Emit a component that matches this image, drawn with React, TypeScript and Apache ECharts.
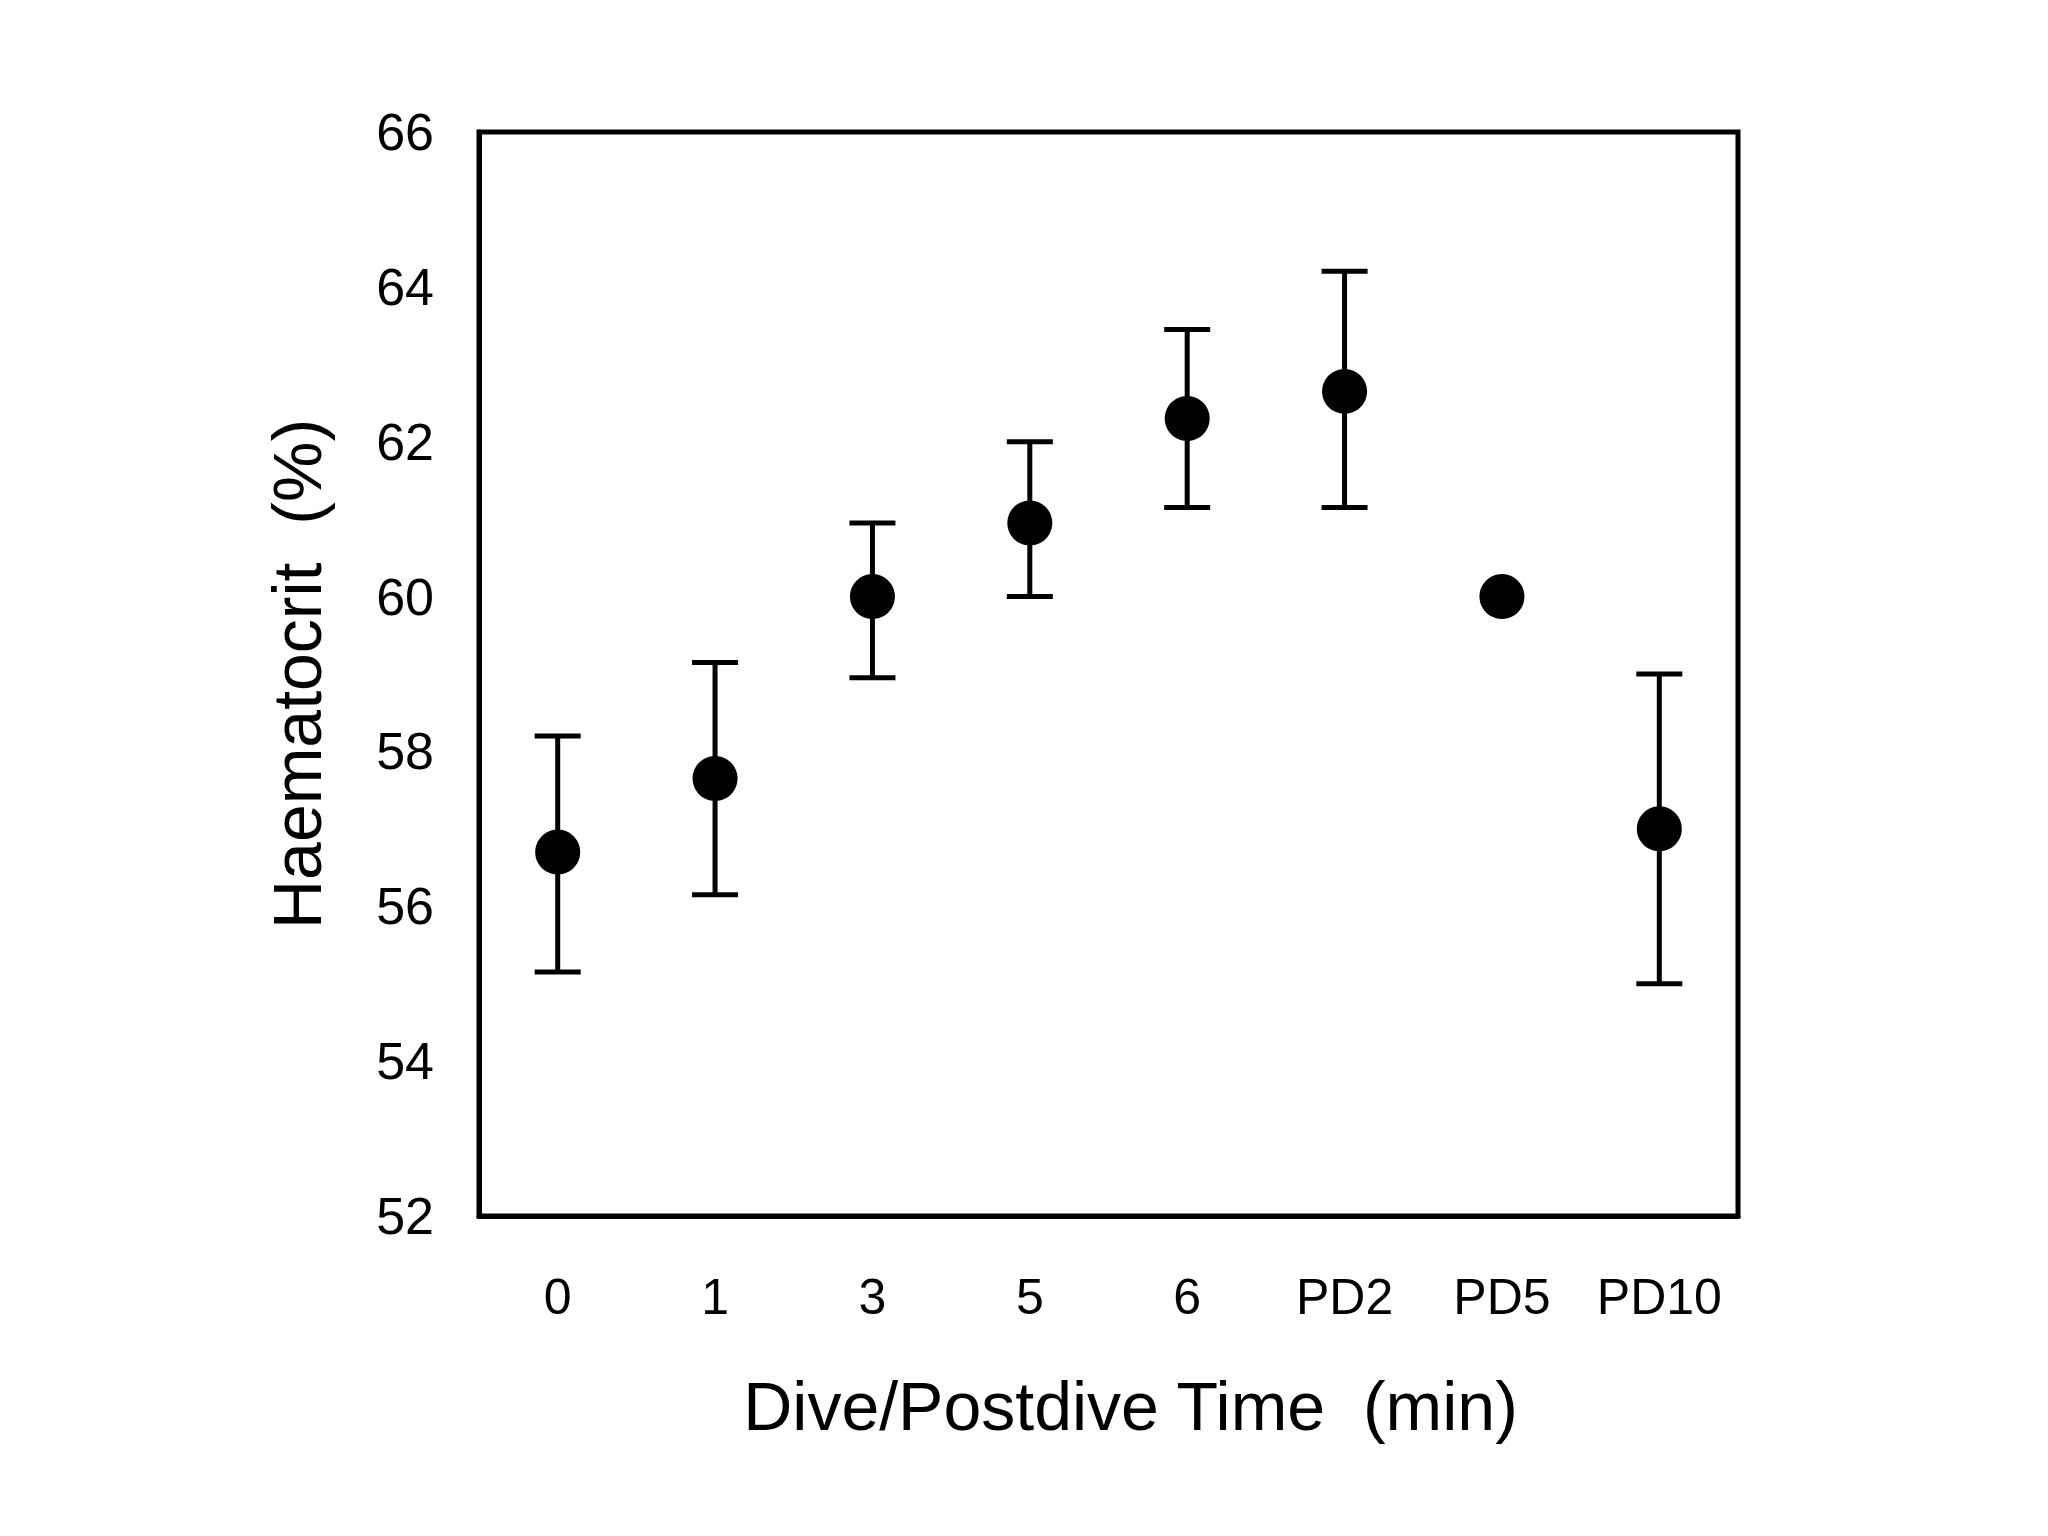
import React, { useEffect, useRef } from "react";
import * as echarts from "echarts";

const categories = ["0", "1", "3", "5", "6", "PD2", "PD5", "PD10"];
const means = [56.7, 57.65, 60.0, 60.95, 62.3, 62.65, 60.0, 57.0];
const lower = [55.15, 56.15, 58.95, 60.0, 61.15, 61.15, 60.0, 55.0];
const upper = [58.2, 59.15, 60.95, 62.0, 63.45, 64.2, 60.0, 59.0];
const yMin = 52;
const yMax = 66;
const yStep = 2;

export default function App() {
  const ref = useRef<HTMLDivElement>(null);
  useEffect(() => {
    if (!ref.current) return;
    const chart = echarts.init(ref.current, null, { renderer: "svg" });
    const font = "'Liberation Sans', Arial, Helvetica, sans-serif";
    chart.setOption({
      animation: false,
      backgroundColor: "#ffffff",
      grid: {
        left: 479,
        right: 310,
        top: 132,
        bottom: 320,
        show: true,
        borderColor: "#000",
        borderWidth: 5,
        backgroundColor: "transparent",
      },
      xAxis: {
        type: "category",
        data: categories,
        boundaryGap: true,
        axisLine: { show: true, lineStyle: { color: "#000", width: 5 } },
        axisTick: { show: false },
        axisLabel: { color: "#000", fontSize: 50, fontFamily: font, margin: 56, interval: 0 },
        name: "Dive/Postdive Time  (min)",
        nameLocation: "middle",
        nameGap: 156,
        nameTextStyle: { color: "#000", fontSize: 68, fontFamily: font, padding: [0, 0, 0, 44] },
        splitLine: { show: false },
      },
      yAxis: {
        type: "value",
        min: yMin,
        max: yMax,
        interval: yStep,
        axisLine: { show: true, lineStyle: { color: "#000", width: 5 } },
        axisTick: { show: false },
        splitLine: { show: false },
        axisLabel: { color: "#000", fontSize: 52, fontFamily: font, margin: 45 },
        name: "Haematocrit  (%)",
        nameLocation: "middle",
        nameGap: 148,
        nameTextStyle: { color: "#000", fontSize: 68, fontFamily: font },
      },
      series: [
        {
          type: "custom",
          data: categories.map((_, i) => [i, lower[i], upper[i]]),
          renderItem: (params: any, api: any) => {
            const x = api.value(0);
            const lo = api.coord([x, api.value(1)]);
            const hi = api.coord([x, api.value(2)]);
            if (Math.abs(lo[1] - hi[1]) < 1) return { type: "group", children: [] };
            const hw = 23;
            const style = { stroke: "#000", lineWidth: 5 };
            return {
              type: "group",
              children: [
                { type: "line", shape: { x1: lo[0], y1: lo[1], x2: hi[0], y2: hi[1] }, style },
                { type: "line", shape: { x1: lo[0] - hw, y1: lo[1], x2: lo[0] + hw, y2: lo[1] }, style },
                { type: "line", shape: { x1: hi[0] - hw, y1: hi[1], x2: hi[0] + hw, y2: hi[1] }, style },
              ],
            };
          },
          z: 2,
        },
        {
          type: "scatter",
          data: means,
          symbol: "circle",
          symbolSize: 45,
          itemStyle: { color: "#000", opacity: 1 },
          z: 3,
        },
      ],
    });
    return () => chart.dispose();
  }, []);
  return (
    <div
      ref={ref}
      style={{ position: "fixed", left: 0, top: 0, width: 2048, height: 1536, background: "#fff" }}
    />
  );
}
